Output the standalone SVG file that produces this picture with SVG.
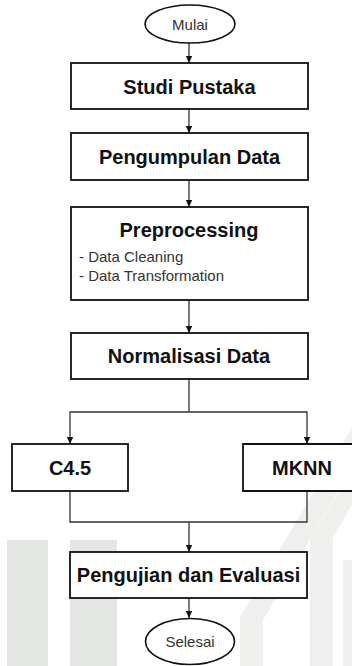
<svg xmlns="http://www.w3.org/2000/svg" width="352" height="666" viewBox="0 0 352 666">
<style>
.box{fill:#fff;stroke:#111;stroke-width:1.8}
.term{fill:#fff;stroke:#111;stroke-width:1.6}
.t{font-family:"Liberation Sans",Arial,sans-serif;font-weight:bold;font-size:20px;fill:#111;text-anchor:middle}
.s{font-family:"Liberation Sans",Arial,sans-serif;font-size:15px;fill:#333}
.c{text-anchor:middle}
.ln{fill:none;stroke:#333;stroke-width:1.3}
.wm{fill:#e4e6e3}
.wm2{fill:#eff0ee}
</style>
<defs>
<marker id="ah" markerWidth="8" markerHeight="8" refX="7" refY="4" orient="auto" markerUnits="userSpaceOnUse">
<path d="M0,0.8 L7,4 L0,7.2 Z" fill="#111"/>
</marker>
</defs>
<g id="watermark">
<rect class="wm" x="7" y="540" width="41" height="126"/>
<rect class="wm" x="70" y="540" width="47" height="126"/>
<polygon class="wm2" points="240,666 240,617 352,427 352,468 263,620 263,666"/>
<polygon class="wm2" points="310,666 310,540 352,470 352,505 333,538 333,666"/>
<rect class="wm2" x="343" y="560" width="9" height="106"/>
</g>
<g id="connectors">
<line class="ln" x1="189" y1="43" x2="189" y2="63" marker-end="url(#ah)"/>
<line class="ln" x1="189" y1="109" x2="189" y2="133" marker-end="url(#ah)"/>
<line class="ln" x1="189" y1="180" x2="189" y2="207" marker-end="url(#ah)"/>
<line class="ln" x1="189" y1="300" x2="189" y2="333" marker-end="url(#ah)"/>
<polyline class="ln" points="189,379 189,412"/>
<polyline class="ln" points="189,412 70,412 70,444" marker-end="url(#ah)"/>
<polyline class="ln" points="189,412 307,412 307,444" marker-end="url(#ah)"/>
<polyline class="ln" points="70,491 70,522 307,522 307,491"/>
<line class="ln" x1="189" y1="522" x2="189" y2="552" marker-end="url(#ah)"/>
<line class="ln" x1="189" y1="598" x2="189" y2="618" marker-end="url(#ah)"/>
</g>
<g id="mulai">
<ellipse class="term" cx="190" cy="24" rx="45" ry="19"/>
<text class="s c" x="190" y="30">Mulai</text>
</g>
<g id="studi-pustaka">
<rect class="box" x="71" y="63" width="237" height="46"/>
<text class="t" x="189.5" y="93.5">Studi Pustaka</text>
</g>
<g id="pengumpulan-data">
<rect class="box" x="71" y="133" width="237" height="47"/>
<text class="t" x="189.5" y="164">Pengumpulan Data</text>
</g>
<g id="preprocessing">
<rect class="box" x="71" y="207" width="237" height="93"/>
<text class="t" x="189" y="237">Preprocessing</text>
<text class="s" x="79" y="262">- Data Cleaning</text>
<text class="s" x="79" y="281">- Data Transformation</text>
</g>
<g id="normalisasi-data">
<rect class="box" x="71" y="333" width="237" height="46"/>
<text class="t" x="189" y="363">Normalisasi Data</text>
</g>
<g id="c45">
<rect class="box" x="12" y="444" width="116" height="47"/>
<text class="t" x="70" y="475">C4.5</text>
</g>
<g id="mknn">
<path class="box" d="M352,444 H243 V491 H352"/>
<text class="t" x="302" y="475">MKNN</text>
</g>
<g id="pengujian-evaluasi">
<rect class="box" x="70" y="552" width="237" height="46"/>
<text class="t" x="188.5" y="582">Pengujian dan Evaluasi</text>
</g>
<g id="selesai">
<ellipse class="term" cx="190" cy="641.5" rx="44.5" ry="23"/>
<text class="s c" x="190" y="647">Selesai</text>
</g>
</svg>
